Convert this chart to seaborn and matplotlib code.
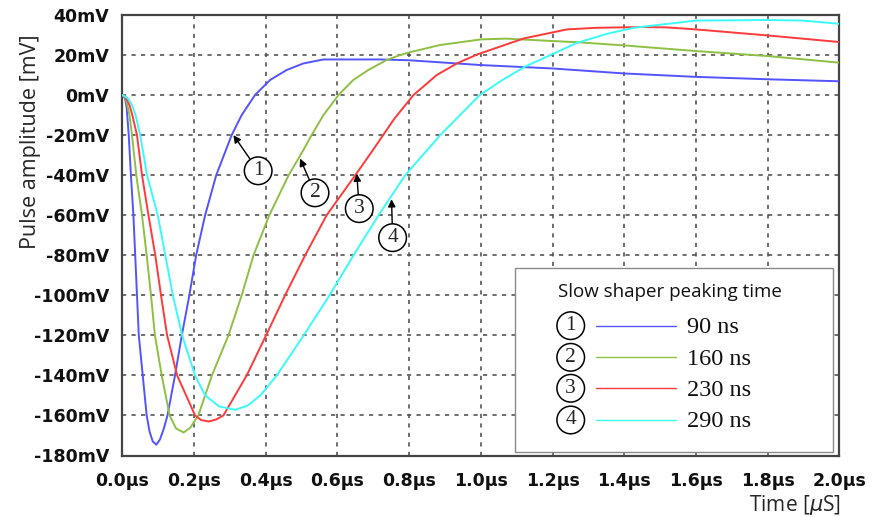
import numpy as np
import pandas as pd
import matplotlib
matplotlib.use("Agg")
import matplotlib.pyplot as plt
from matplotlib.patches import Rectangle
import seaborn as sns

# ---------------- data ----------------
series_labels = ["90 ns", "160 ns", "230 ns", "290 ns"]
series_marks = ["1", "2", "3", "4"]
series_colors = ["#5353FF", "#8DC043", "#FF3A3A", "#3AFAFA"]

t_90 = [0.000, 0.004, 0.008, 0.012, 0.018, 0.024, 0.031, 0.036, 0.041, 0.046,
        0.057, 0.068, 0.076, 0.085, 0.095, 0.105, 0.115, 0.126, 0.147, 0.166,
        0.187, 0.206, 0.231, 0.262, 0.305, 0.333, 0.370, 0.412, 0.458, 0.505,
        0.561, 0.720, 0.800, 1.000, 1.200, 1.400, 1.600, 1.800, 2.000]
v_90 = [0.0, -0.5, -2.0, -6.0, -20.0, -40.0, -60.0, -80.0, -100.0, -120.0,
        -140.0, -160.0, -168.0, -173.0, -174.6, -172.0, -167.0, -160.0, -140.0, -120.0,
        -100.0, -80.0, -60.0, -40.0, -20.0, -10.0, 0.0, 7.5, 12.5, 15.8,
        17.8, 17.8, 17.4, 15.0, 13.3, 10.8, 9.1, 7.9, 6.9]

t_160 = [0.000, 0.005, 0.010, 0.014, 0.020, 0.027, 0.039, 0.055, 0.068, 0.080,
         0.091, 0.110, 0.132, 0.150, 0.171, 0.190, 0.212, 0.250, 0.296, 0.333,
         0.366, 0.410, 0.464, 0.505, 0.528, 0.561, 0.603, 0.644, 0.686, 0.737,
         0.775, 0.800, 0.886, 1.000, 1.070, 1.200, 1.270, 1.400, 1.600, 1.800,
         2.000]
v_160 = [0.0, -0.5, -2.0, -5.0, -10.0, -20.0, -40.0, -60.0, -80.0, -100.0,
         -120.0, -140.0, -160.0, -166.5, -168.5, -166.0, -160.0, -140.0, -120.0, -100.0,
         -80.0, -60.0, -40.0, -27.5, -20.0, -10.0, 0.0, 7.5, 12.5, 17.5,
         20.0, 21.3, 25.0, 27.8, 28.2, 27.0, 26.4, 24.8, 22.0, 19.5,
         16.2]

t_230 = [0.000, 0.006, 0.012, 0.020, 0.028, 0.041, 0.055, 0.073, 0.092, 0.108,
         0.125, 0.153, 0.203, 0.220, 0.241, 0.262, 0.282, 0.347, 0.401, 0.454,
         0.510, 0.570, 0.650, 0.695, 0.718, 0.758, 0.812, 0.877, 0.933, 0.990,
         1.120, 1.240, 1.320, 1.450, 1.520, 1.600, 1.800, 2.000]
v_230 = [0.0, -0.5, -2.0, -5.0, -10.0, -20.0, -40.0, -60.0, -80.0, -100.0,
         -120.0, -140.0, -160.0, -162.3, -163.0, -162.0, -160.0, -140.0, -120.0, -100.0,
         -80.0, -60.0, -40.0, -28.5, -22.5, -12.0, 0.0, 10.0, 15.8, 20.3,
         28.3, 32.8, 33.6, 34.0, 33.8, 32.8, 29.8, 26.5]

t_290 = [0.000, 0.006, 0.015, 0.027, 0.037, 0.050, 0.069, 0.099, 0.120, 0.141,
         0.167, 0.203, 0.231, 0.270, 0.315, 0.350, 0.385, 0.431, 0.506, 0.578,
         0.645, 0.715, 0.789, 0.887, 0.997, 1.060, 1.123, 1.203, 1.267, 1.350,
         1.426, 1.600, 1.800, 1.900, 2.000]
v_290 = [0.0, -0.5, -1.5, -5.0, -10.0, -20.0, -40.0, -60.0, -80.0, -100.0,
         -120.0, -140.0, -150.0, -155.5, -157.2, -155.0, -150.0, -140.0, -120.0, -100.0,
         -80.0, -60.0, -40.0, -20.0, 0.0, 7.5, 14.2, 20.7, 26.0, 30.5,
         33.6, 37.2, 37.5, 37.2, 35.6]

x_ticks = [0.0, 0.2, 0.4, 0.6, 0.8, 1.0, 1.2, 1.4, 1.6, 1.8, 2.0]
x_tick_labels = ["0.0µs", "0.2µs", "0.4µs", "0.6µs", "0.8µs", "1.0µs",
                 "1.2µs", "1.4µs", "1.6µs", "1.8µs", "2.0µs"]
y_ticks = [40, 20, 0, -20, -40, -60, -80, -100, -120, -140, -160, -180]
y_tick_labels = ["40mV", "20mV", "0mV", "-20mV", "-40mV", "-60mV", "-80mV",
                 "-100mV", "-120mV", "-140mV", "-160mV", "-180mV"]

# callout arrows: (tip t, tip v, circle t, circle v)
callout_tip_t = [0.310, 0.496, 0.654, 0.751]
callout_tip_v = [-20.0, -31.7, -39.2, -52.0]
callout_txt_t = [0.379, 0.5375, 0.661, 0.754]
callout_txt_v = [-37.8, -48.8, -56.7, -71.2]

# ---------------- build table ----------------
frames = []
for lab, tt, vv in zip(series_labels, [t_90, t_160, t_230, t_290],
                       [v_90, v_160, v_230, v_290]):
    frames.append(pd.DataFrame({"t": tt, "v": vv, "series": lab}))
df = pd.concat(frames, ignore_index=True)

# ---------------- plot ----------------
sns.set_style("white")
plt.rcParams["font.family"] = ["DejaVu Sans"]

fig = plt.figure(figsize=(8.74, 5.17), dpi=100)
ax = fig.add_axes([122.3 / 874, 1 - 455.5 / 517, 717 / 874, 440.5 / 517])

palette = dict(zip(series_labels, series_colors))
sns.lineplot(data=df, x="t", y="v", hue="series", palette=palette,
             estimator=None, legend=False, linewidth=1.4, ax=ax, zorder=3)

ax.set_xlim(0, 2.0)
ax.set_ylim(-180, 40)
ax.set_xticks(x_ticks)
ax.set_xticklabels(x_tick_labels)
ax.set_yticks(y_ticks)
ax.set_yticklabels(y_tick_labels)
for lbl in ax.get_xticklabels() + ax.get_yticklabels():
    lbl.set_fontweight("bold")
    lbl.set_fontsize(12.5)
    lbl.set_color("#111111")

ax.tick_params(axis="both", direction="out", length=8, width=1.3, color="#333333")
ax.tick_params(axis="y", pad=1.5)
ax.tick_params(axis="x", pad=4)

ax.grid(True, color="#555555", linestyle=(0, (2.5, 3.2)), linewidth=1.2)
for s in ax.spines.values():
    s.set_color("#444444")
    s.set_linewidth(1.6)

ax.set_ylabel("Pulse amplitude [mV]", fontsize=15.5,
              family=["Open Sans", "DejaVu Sans"])
ax.yaxis.set_label_coords(-0.1134, 0.712)
ax.set_xlabel("Time [$\\mu$S]", fontsize=15, family=["Open Sans", "DejaVu Sans"], loc="right")
ax.xaxis.set_label_coords(1.002, -0.084)

# callouts
for mark, tt, tv, ct, cv in zip(series_marks, callout_tip_t, callout_tip_v,
                                callout_txt_t, callout_txt_v):
    ax.annotate(mark, xy=(tt, tv), xytext=(ct, cv), textcoords="data",
                ha="center", va="center", fontsize=15.5, family="Liberation Serif",
                bbox=dict(boxstyle="circle,pad=0.2", fc="white", ec="black", lw=1.1),
                arrowprops=dict(arrowstyle="-|>", color="black", lw=1.0,
                                mutation_scale=11, shrinkA=0, shrinkB=0),
                zorder=5)

# legend box (drawn manually)
box = Rectangle((0.5477, 0.0079), 0.9912 - 0.5477, 0.4257 - 0.0079,
                transform=ax.transAxes, fc="white", ec="#8a8a8a", lw=1.0, zorder=6)
ax.add_patch(box)
ax.text(0.6077, 0.371, "Slow shaper peaking time", transform=ax.transAxes,
        ha="left", va="center", fontsize=13.5, family=["Open Sans", "DejaVu Sans"],
        color="#111111", zorder=7)
row_y = [0.2947, 0.2229, 0.1526, 0.0806]
for mark, lab, col, ry in zip(series_marks, series_labels, series_colors, row_y):
    ax.text(0.6254, ry, mark, transform=ax.transAxes, ha="center", va="center",
            fontsize=15.5, family="Liberation Serif", zorder=7,
            bbox=dict(boxstyle="circle,pad=0.2", fc="white", ec="black", lw=1.1))
    ax.plot([0.6607, 0.7718], [ry, ry], transform=ax.transAxes, color=col,
            lw=1.0, zorder=7)
    ax.text(0.788, ry - 0.004, lab, transform=ax.transAxes, ha="left", va="center",
            fontsize=17.5, family="Liberation Serif", color="#111111", zorder=7)

fig.savefig("out.png", dpi=100)
